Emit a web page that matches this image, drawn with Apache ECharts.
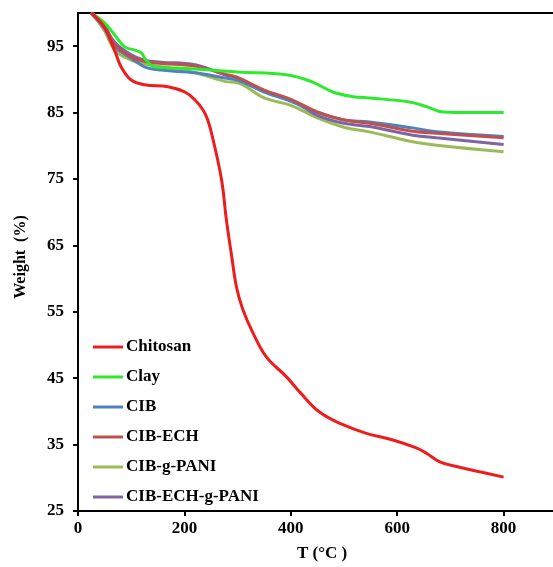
<!DOCTYPE html>
<html>
<head>
<meta charset="utf-8">
<script src="https://cdn.jsdelivr.net/npm/echarts@6/dist/echarts.min.js"></script>
<style>html,body{margin:0;padding:0;background:#fff}#c{width:553px;height:567px}</style>
</head>
<body>
<div id="c"></div>
<script>
var seriesNames = ['Chitosan', 'Clay', 'CIB', 'CIB-ECH', 'CIB-g-PANI', 'CIB-ECH-g-PANI'];
var yTicks = [25, 35, 45, 55, 65, 75, 85, 95];
var xTicks = [0, 200, 400, 600, 800, 1000];

var chitosanT = [25, 50, 70, 81, 100, 125, 169, 201, 220, 235, 244, 254, 270, 279, 289, 298, 310, 329, 354, 392, 417, 454, 498, 542, 592, 636, 655, 680, 717, 755, 800];
var chitosanW = [100, 97.8, 94.1, 91.9, 89.9, 89.2, 88.9, 88.1, 86.9, 85.4, 83.9, 80.9, 74.8, 68.8, 63.3, 58.7, 55.3, 51.8, 48.2, 45.2, 42.9, 39.9, 38.0, 36.7, 35.7, 34.5, 33.7, 32.4, 31.6, 30.9, 30.1];

var clayT = [25, 50, 69, 88, 107, 119, 128, 144, 188, 250, 300, 392, 441, 479, 517, 548, 623, 655, 686, 736, 800];
var clayW = [100, 98.5, 96.7, 94.9, 94.4, 94.0, 92.9, 91.9, 91.7, 91.4, 91.1, 90.7, 89.6, 88.1, 87.4, 87.2, 86.6, 85.9, 85.1, 85.0, 85.0];

var mixT = [25, 50, 69, 100, 125, 156, 220, 276, 300, 350, 400, 450, 500, 548, 629, 674, 800];
var cibW =        [100, 97.6, 94.9, 93.2, 91.9, 91.4, 91.0, 90.2, 89.9, 88.1, 86.7, 85.0, 83.9, 83.6, 82.7, 82.1, 81.4];
var cibEchW =     [100, 97.9, 95.2, 93.4, 92.7, 92.4, 92.0, 90.8, 90.3, 88.4, 87.0, 85.1, 83.9, 83.4, 82.2, 81.9, 81.2];
var cibPaniW =    [100, 97.3, 94.4, 92.9, 92.3, 91.9, 91.0, 89.7, 89.5, 87.2, 86.1, 84.2, 82.8, 82.1, 80.6, 80.1, 79.1];
var cibEchPaniW = [100, 98.0, 95.6, 93.7, 92.9, 92.6, 92.2, 90.7, 90.2, 88.2, 86.9, 84.6, 83.4, 82.9, 81.6, 81.2, 80.2];

var colors = ['#ee1c1c', '#2eea2e', '#4f81bd', '#c0504d', '#9bbb59', '#8064a2'];

function zip(xs, ys) { return xs.map(function (x, i) { return [x, ys[i]]; }); }
var allData = [zip(chitosanT, chitosanW), zip(clayT, clayW), zip(mixT, cibW), zip(mixT, cibEchW), zip(mixT, cibPaniW), zip(mixT, cibEchPaniW)];
var order = [4, 5, 2, 3, 1, 0];

var font = 'Liberation Serif';
var chart = echarts.init(document.getElementById('c'), null, {renderer: 'canvas'});
chart.setOption({
  animation: false,
  backgroundColor: '#fff',
  grid: {left: 78, top: 13, width: 532, height: 498, containLabel: false, outerBoundsMode: 'none',
         show: true, borderColor: '#000', borderWidth: 2, backgroundColor: 'transparent'},
  xAxis: {
    type: 'value', min: 0, max: 1000, interval: 200,
    axisLine: {lineStyle: {color: '#000', width: 2}},
    axisTick: {show: true, length: 5, lineStyle: {color: '#000', width: 2}, customValues: xTicks},
    axisLabel: {color: '#000', fontFamily: font, fontWeight: 'bold', fontSize: 17, margin: 9, customValues: xTicks,
                formatter: function (v) { return String(v); }},
    splitLine: {show: false}
  },
  yAxis: {
    type: 'value', min: 25, max: 100,
    axisLine: {show: true, lineStyle: {color: '#000', width: 2}},
    axisTick: {show: true, length: 5, lineStyle: {color: '#000', width: 2}, customValues: yTicks},
    axisLabel: {color: '#000', fontFamily: font, fontWeight: 'bold', fontSize: 17, margin: 14, customValues: yTicks},
    splitLine: {show: false}
  },
  legend: {
    orient: 'vertical', left: 93, top: 337, padding: 0, itemGap: 10,
    itemWidth: 30, itemHeight: 3, icon: 'rect',
    data: seriesNames,
    textStyle: {color: '#000', fontFamily: font, fontWeight: 'bold', fontSize: 17, lineHeight: 20, padding: [0, 0, 0, -2]}
  },
  graphic: [
    {type: 'text', x: 322, y: 554, style: {text: 'T (°C )', fill: '#000', font: 'bold 17px "Liberation Serif"', textAlign: 'center', textVerticalAlign: 'middle'}},
    {type: 'text', x: 21, y: 257, rotation: Math.PI / 2, style: {text: 'Weight  (%)', fill: '#000', font: 'bold 16px "Liberation Serif"', textAlign: 'center', textVerticalAlign: 'middle'}}
  ],
  series: order.map(function (i) {
    return {
      name: seriesNames[i], type: 'line', data: allData[i], smooth: 0.4,
      showSymbol: false, symbol: 'none', color: colors[i],
      lineStyle: {width: 3, color: colors[i]}, z: 2 + (i === 0 ? 3 : 0)
    };
  })
});
</script>
</body>
</html>
